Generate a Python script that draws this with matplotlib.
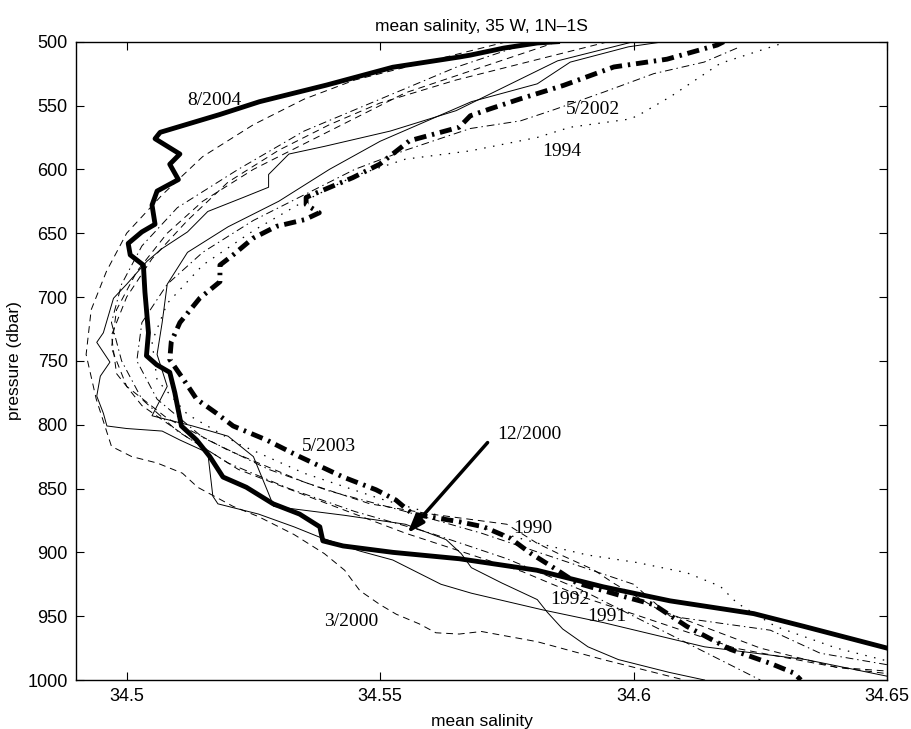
import matplotlib.pyplot as plt

# profiles: (mean salinity, pressure in dbar)
prof_2004 = [(34.585, 500), (34.581, 501), (34.5744, 505), (34.5678, 510.5), (34.5656, 512),
             (34.5525, 520), (34.5394, 534), (34.5262, 547), (34.5184, 557), (34.5066, 571),
             (34.5056, 576), (34.5105, 588), (34.5085, 596), (34.5102, 608), (34.506, 617),
             (34.505, 628), (34.5056, 643), (34.503, 649), (34.5003, 658), (34.5007, 667),
             (34.5033, 675), (34.5036, 696), (34.5043, 728), (34.5039, 746), (34.5059, 753),
             (34.5085, 759), (34.5095, 775), (34.5108, 801), (34.5138, 812), (34.5164, 825),
             (34.519, 841), (34.5236, 849), (34.5289, 862), (34.5341, 870), (34.5381, 880),
             (34.5387, 891), (34.5427, 895), (34.5525, 900), (34.5656, 905), (34.5809, 914),
             (34.594, 927), (34.6072, 938), (34.6237, 948), (34.6336, 958), (34.65, 975)]

prof_2003 = [(34.6178, 500), (34.6165, 502.6), (34.6066, 513.7), (34.5961, 519.8), (34.5862, 534.2),
             (34.5777, 544.7), (34.5717, 552.6), (34.5678, 558), (34.5656, 567), (34.5558, 577.6),
             (34.5499, 596), (34.5446, 606.5), (34.5367, 619.7), (34.5354, 622), (34.5354, 627.6),
             (34.538, 634), (34.5351, 639.4), (34.5295, 644.7), (34.5249, 654), (34.521, 667),
             (34.5184, 675), (34.5184, 688), (34.5144, 701), (34.5105, 720), (34.5088, 735),
             (34.5085, 749), (34.5112, 764.5), (34.5138, 780), (34.5177, 791), (34.521, 801),
             (34.5276, 812), (34.5341, 825), (34.5427, 841), (34.5492, 851), (34.5531, 859),
             (34.5564, 870), (34.5656, 876), (34.5704, 880), (34.5757, 889), (34.5796, 900.5),
             (34.5842, 912), (34.5888, 924), (34.598, 934.5), (34.604, 941), (34.6105, 958),
             (34.6191, 976), (34.627, 987), (34.6316, 994.5), (34.633, 1000)]

prof_2002 = [(34.6204, 505), (34.6139, 516), (34.604, 525), (34.5941, 539.5), (34.5842, 553.4),
             (34.5777, 562), (34.5678, 568), (34.555, 585), (34.545, 600), (34.535, 620),
             (34.525, 640), (34.515, 665), (34.508, 690), (34.503, 720), (34.502, 750),
             (34.506, 780), (34.515, 810), (34.528, 835), (34.54, 852), (34.555, 868),
             (34.57, 885), (34.585, 905), (34.6, 925), (34.6072, 950), (34.627, 961),
             (34.6368, 979), (34.65, 988)]

prof_1994 = [(34.6303, 500), (34.6171, 517), (34.6073, 543), (34.6014, 556.6), (34.5994, 560.5),
             (34.5875, 567), (34.581, 575), (34.5678, 585.5), (34.555, 592), (34.545, 605),
             (34.535, 625), (34.525, 648), (34.515, 675), (34.508, 705), (34.505, 735),
             (34.506, 765), (34.512, 792), (34.522, 815), (34.535, 838), (34.55, 858),
             (34.565, 875), (34.5809, 892.7), (34.5908, 902), (34.6007, 908), (34.6105, 916),
             (34.6171, 926.6), (34.6204, 939.7), (34.628, 958), (34.64, 975), (34.65, 985)]

prof_1991 = [(34.600, 500), (34.585, 515), (34.565, 554), (34.552, 570), (34.539, 582),
             (34.532, 588), (34.528, 604), (34.528, 614), (34.523, 622), (34.516, 633),
             (34.512, 649), (34.507, 662), (34.504, 672), (34.500, 690), (34.4974, 701),
             (34.4954, 728), (34.4941, 735.5), (34.4967, 751), (34.4948, 762), (34.4941, 777.6),
             (34.4954, 791), (34.4961, 801), (34.500, 803), (34.507, 805), (34.5105, 812),
             (34.516, 822), (34.517, 856), (34.518, 862), (34.526, 870), (34.533, 880),
             (34.538, 888), (34.546, 899), (34.5525, 906), (34.562, 925), (34.568, 932),
             (34.582, 945), (34.594, 955), (34.614, 974), (34.634, 984), (34.65, 997)]

prof_1992 = [(34.606, 500), (34.599, 504), (34.5875, 516), (34.581, 533), (34.568, 547),
             (34.55, 578), (34.54, 600), (34.53, 625), (34.52, 645), (34.512, 665),
             (34.508, 690), (34.507, 720), (34.506, 745), (34.508, 770), (34.505, 793),
             (34.513, 801), (34.52, 809), (34.525, 825), (34.528, 854), (34.529, 864),
             (34.543, 871), (34.555, 878), (34.563, 890), (34.566, 901), (34.568, 912),
             (34.574, 924), (34.581, 937), (34.583, 947), (34.586, 960), (34.591, 974),
             (34.597, 984), (34.607, 994), (34.614, 1000)]

prof_3_2000 = [(34.575, 500), (34.56, 515), (34.545, 530), (34.535, 545), (34.525, 565),
               (34.515, 590), (34.507, 620), (34.5, 650), (34.496, 680), (34.493, 710),
               (34.492, 745), (34.494, 780), (34.497, 817), (34.501, 825), (34.506, 830),
               (34.511, 838), (34.514, 849), (34.521, 864), (34.526, 872), (34.533, 886),
               (34.539, 901), (34.543, 914), (34.546, 930), (34.55, 941), (34.5532, 948.5),
               (34.5577, 956), (34.561, 963), (34.5656, 964), (34.57, 962), (34.581, 970),
               (34.594, 984), (34.607, 997), (34.61, 1000)]

prof_12_2000 = [(34.595, 500), (34.58, 515), (34.565, 530), (34.55, 548), (34.54, 565),
                (34.53, 585), (34.52, 610), (34.512, 640), (34.505, 670), (34.5, 700),
                (34.497, 730), (34.498, 760), (34.503, 785), (34.512, 810), (34.522, 835),
                (34.535, 855), (34.545, 870), (34.555, 885), (34.565, 898), (34.578, 915),
                (34.59, 935), (34.605, 955), (34.62, 975), (34.64, 990), (34.65, 993)]

prof_1990 = [(34.585, 500), (34.57, 520), (34.555, 540), (34.545, 560), (34.535, 580),
             (34.525, 600), (34.515, 625), (34.508, 650), (34.502, 680), (34.498, 710),
             (34.497, 740), (34.5, 770), (34.508, 795), (34.52, 820), (34.535, 845),
             (34.548, 862), (34.56, 870), (34.575, 878), (34.5809, 892.7), (34.5862, 903),
             (34.5921, 913.6), (34.596, 924), (34.605, 945), (34.615, 960), (34.625, 975),
             (34.64, 990), (34.65, 995)]

prof_extra = [(34.58, 500), (34.565, 520), (34.55, 545), (34.535, 570), (34.522, 600),
              (34.51, 630), (34.503, 660), (34.499, 690), (34.497, 720), (34.499, 750),
              (34.503, 780), (34.51, 805), (34.52, 830), (34.532, 850), (34.545, 868),
              (34.56, 885), (34.575, 905), (34.59, 930), (34.6, 950), (34.61, 970),
              (34.62, 990), (34.625, 1000)]

# label text and where it sits (salinity, pressure)
labels = ['8/2004', '5/2002', '1994', '5/2003', '12/2000', '1990', '1992', '1991', '3/2000']
label_pos = [(34.5119, 546), (34.5866, 553.5), (34.5819, 586), (34.5345, 817), (34.5731, 808),
             (34.5763, 881), (34.5836, 937), (34.5908, 950), (34.539, 954.5)]

arrow_tail = (34.5712, 814)
arrow_tip = (34.5554, 885)

xticks = [34.5, 34.55, 34.6, 34.65]
xtick_labels = ['34.5', '34.55', '34.6', '34.65']
yticks = [500, 550, 600, 650, 700, 750, 800, 850, 900, 950, 1000]

fig = plt.figure(figsize=(9.11, 7.29), dpi=100)
ax = fig.add_axes([0.0834, 0.0672, 0.8903, 0.8756])


def draw(prof, lw, dashes=None):
    xs = [s for s, p in prof]
    ys = [p for s, p in prof]
    line, = ax.plot(xs, ys, color='black', lw=lw, solid_joinstyle='round')
    if dashes is not None:
        line.set_dashes(dashes)
    return line


thin = 0.7
draw(prof_1991, thin)
draw(prof_1992, thin)
draw(prof_3_2000, thin, (7, 5))
draw(prof_12_2000, thin, (7, 5))
draw(prof_1990, thin, (7, 5))
draw(prof_2002, thin, (8, 4, 1.5, 4))
draw(prof_extra, thin, (8, 4, 1.5, 4))
draw(prof_1994, 0.9, (1.2, 6))
draw(prof_2003, 3.5, (2.5, 1.2, 0.5, 1.2))
draw(prof_2004, 3.5)

for txt, (sx, py) in zip(labels, label_pos):
    ax.text(sx, py, txt, ha='left', va='center', fontsize=14,
            family=['Liberation Serif', 'DejaVu Serif'])

ax.annotate('', xy=arrow_tip, xytext=arrow_tail,
            arrowprops=dict(arrowstyle='-|>,head_length=1.0,head_width=0.35',
                            color='black', lw=2.5, shrinkA=0, shrinkB=0))

ax.set_xlim(34.49, 34.65)
ax.set_ylim(1000, 500)
ax.set_xticks(xticks)
ax.set_xticklabels(xtick_labels)
ax.set_yticks(yticks)
ax.tick_params(direction='in', length=6, width=0.8, top=True, right=True,
               labelsize=13, pad=6)
for sp in ax.spines.values():
    sp.set_linewidth(1.0)

font = ['Liberation Sans', 'DejaVu Sans']
for t in ax.get_xticklabels() + ax.get_yticklabels():
    t.set_family(font)
ax.set_title('mean salinity, 35 W, 1N\u20131S', fontsize=12.5, family=font, pad=8)
ax.set_xlabel('mean salinity', fontsize=12.5, family=font, labelpad=6)
ax.set_ylabel('pressure (dbar)', fontsize=12.5, family=font, labelpad=4)

fig.savefig('out.png', dpi=100)
